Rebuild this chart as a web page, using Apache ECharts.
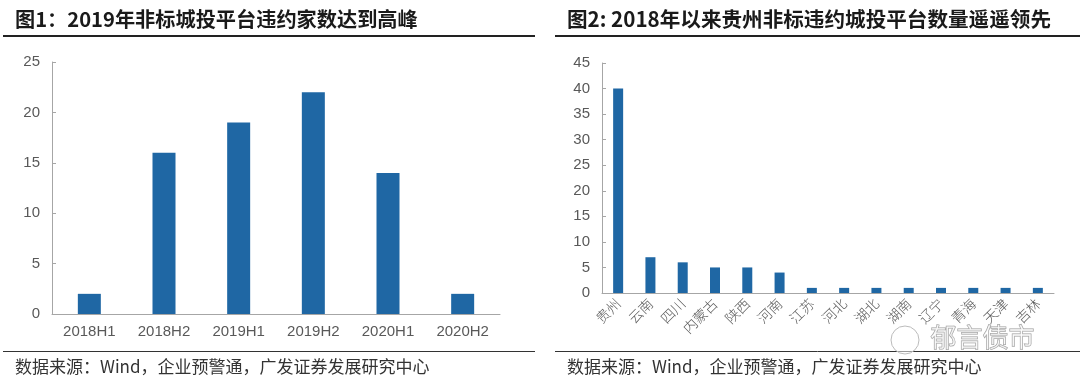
<!DOCTYPE html>
<html><head><meta charset="utf-8">
<script src="https://cdn.jsdelivr.net/npm/echarts@6/dist/echarts.min.js"></script>
<style>html,body{margin:0;padding:0;background:#fff}#c{width:1080px;height:390px}</style>
</head><body><div id="c"></div>
<script>
const title1 = '图1：2019年非标城投平台违约家数达到高峰';
const title2 = '图2: 2018年以来贵州非标违约城投平台数量遥遥领先';
const sourceText = '数据来源：Wind，企业预警通，广发证券发展研究中心';
const watermark = '郁言债市';
const periods = ['2018H1','2018H2','2019H1','2019H2','2020H1','2020H2'];
const defaults = [2,16,19,22,14,2];
const provinces = ['贵州','云南','四川','内蒙古','陕西','河南','江苏','河北','湖北','湖南','辽宁','青海','天津','吉林'];
const provinceCounts = [40,7,6,5,5,4,1,1,1,1,1,1,1,1];

const FONT = '"Liberation Sans", Arial, "Noto Sans CJK SC", sans-serif';
const CJK = '"Noto Sans CJK SC", sans-serif';
const barColor = '#1f67a4';
const axisColor = '#a6a6a6';
const labelColor = '#595959';

const chart = echarts.init(document.getElementById('c'), null, {renderer:'canvas'});
const yAxisCommon = {
  type:'value', axisLine:{show:true, lineStyle:{color:axisColor}},
  axisTick:{show:true, inside:true, length:4, lineStyle:{color:axisColor}},
  splitLine:{show:false},
  axisLabel:{color:labelColor, fontSize:15, fontFamily:FONT, margin:12}
};
chart.setOption({
  animation:false,
  grid:[
    {left:52, top:62, width:448, height:252},
    {left:602, top:63, width:452, height:230}
  ],
  xAxis:[
    {gridIndex:0, type:'category', data:periods, axisLine:{lineStyle:{color:axisColor}}, axisTick:{show:false},
     axisLabel:{color:labelColor, fontSize:15, fontFamily:FONT, margin:10}},
    {gridIndex:1, type:'category', data:provinces, axisLine:{lineStyle:{color:axisColor}}, axisTick:{show:false},
     axisLabel:{color:labelColor, fontSize:14, fontFamily:CJK, fontWeight:300, rotate:45, margin:8, interval:0}}
  ],
  yAxis:[
    Object.assign({gridIndex:0, min:0, max:25, interval:5}, yAxisCommon),
    Object.assign({gridIndex:1, min:0, max:45, interval:5}, yAxisCommon)
  ],
  series:[
    {type:'bar', xAxisIndex:0, yAxisIndex:0, data:defaults, barWidth:23, itemStyle:{color:barColor}},
    {type:'bar', xAxisIndex:1, yAxisIndex:1, data:provinceCounts, barWidth:10, itemStyle:{color:barColor}}
  ],
  graphic:[
    {type:'text', left:15, top:9, style:{text:title1, fontSize:20.2, fontWeight:'bold', fill:'#1a1a1a', fontFamily:CJK}},
    {type:'text', left:567, top:9, style:{text:title2, fontSize:20.6, fontWeight:'bold', fill:'#1a1a1a', fontFamily:CJK}},
    {type:'line', shape:{x1:3, y1:36, x2:535, y2:36}, style:{stroke:'#222', lineWidth:2}},
    {type:'line', shape:{x1:555, y1:36, x2:1080, y2:36}, style:{stroke:'#222', lineWidth:2}},
    {type:'line', shape:{x1:3, y1:351.5, x2:535, y2:351.5}, style:{stroke:'#333', lineWidth:1}},
    {type:'line', shape:{x1:555, y1:351.5, x2:1080, y2:351.5}, style:{stroke:'#333', lineWidth:1}},
    {type:'text', left:15, top:358, style:{text:sourceText, fontSize:17, fill:'#333', fontFamily:CJK}},
    {type:'text', left:567, top:358, style:{text:sourceText, fontSize:17, fill:'#333', fontFamily:CJK}},
    {type:'circle', shape:{cx:905, cy:340, r:14}, style:{fill:'rgba(255,255,255,0.5)', stroke:'#bbb', lineWidth:1}},
    {type:'text', left:930, top:324, style:{text:watermark, fontSize:26, fill:'rgba(255,255,255,0.6)', stroke:'#999', lineWidth:1, fontFamily:CJK}}
  ]
});
</script></body></html>
